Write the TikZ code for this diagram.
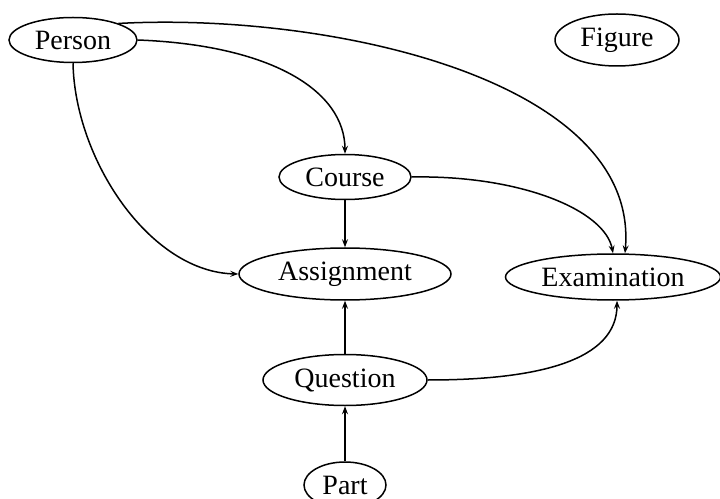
\documentclass[tikz,border=0pt]{standalone}
\usepackage{fontspec}
\setmainfont{Liberation Serif}
\usetikzlibrary{shapes.geometric,arrows.meta}
\begin{document}
\begin{tikzpicture}[x=1bp,y=-1bp,
  ent/.style={ellipse,draw,line width=1.5bp,inner sep=0pt,
    font=\fontsize{28bp}{32bp}\selectfont},
  rel/.style={line width=1.5bp,-{Stealth[length=8bp,width=6bp,inset=3bp]}}]
\useasboundingbox (0,0) rectangle (720,499);
% entities
\node[ent,minimum width=128bp,minimum height=45bp] (person) at (73,40) {Person};
\node[ent,minimum width=124bp,minimum height=52bp] (figure) at (617,40) {Figure};
\node[ent,minimum width=132bp,minimum height=45bp] (course) at (345,177) {Course};
\node[ent,minimum width=212bp,minimum height=52bp] (assign) at (345,274) {Assignment};
\node[ent,minimum width=215bp,minimum height=46bp] (exam) at (613,277) {Examination};
\node[ent,minimum width=164bp,minimum height=51bp] (question) at (345,380) {Question};
\node[ent,minimum width=82bp,minimum height=46bp] (part) at (345,485) {Part};
% relations
\draw[rel] (person.east) .. controls (270,45) and (345,90) .. (course.north);
\draw[rel] (person.20) .. controls (330,12) and (640,80) .. ([xshift=12bp]exam.north);
\draw[rel] (person.south) .. controls (75,160) and (150,272) .. (assign.west);
\draw[rel] (course.south) -- (assign.north);
\draw[rel] (course.east) .. controls (520,175) and (605,210) .. (exam.north);
\draw[rel] (question.north) -- (assign.south);
\draw[rel] (question.east) .. controls (540,380) and (617,360) .. ([xshift=4bp]exam.south);
\draw[rel] (part.north) -- (question.south);
\end{tikzpicture}
\end{document}
